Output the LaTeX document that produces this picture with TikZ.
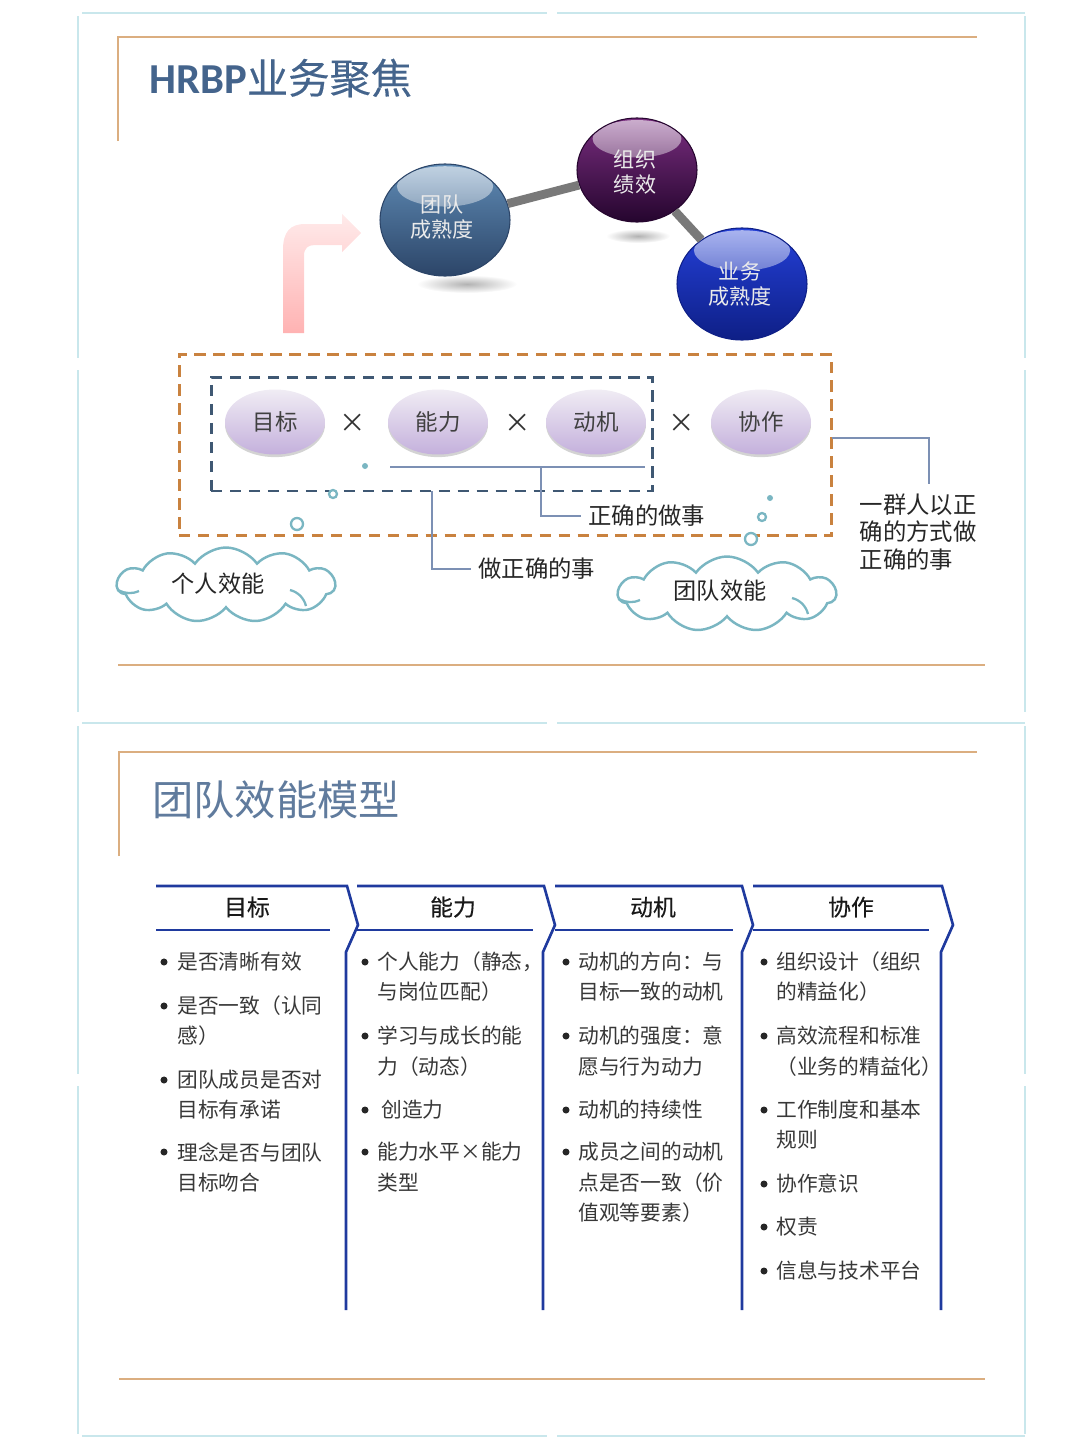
\documentclass[tikz,border=0pt]{standalone}
\usepackage{fontspec}
\setmainfont{Noto Sans CJK SC}
\newfontfamily\latinfont{Carlito}
\newfontfamily\heavyfont[FakeBold=.35]{Noto Sans CJK SC}
\usetikzlibrary{calc,fadings,shadows,shapes.geometric,shapes.symbols}
\definecolor{framecyan}{HTML}{C9E7EC}
\definecolor{rulesand}{HTML}{DBAE80}
\definecolor{titleblue}{HTML}{44648C}
\definecolor{dashorange}{HTML}{C9823F}
\definecolor{dashnavy}{HTML}{3F5873}
\definecolor{leaderblue}{HTML}{7C90B4}
\definecolor{bubbleteal}{HTML}{7AB6C2}
\definecolor{chevblue}{HTML}{1F3A9E}
\definecolor{lenstop}{HTML}{F0ECF4}
\definecolor{lensbot}{HTML}{C4B0DC}
\tikzset{
  framerule/.style={draw=framecyan, line width=0.9pt},
  sandrule/.style={draw=rulesand, line width=0.8pt},
  pagetitle/.style={anchor=west, inner sep=0pt, text=titleblue, font=\fontsize{23.5}{26}\selectfont},
  rod/.style={draw=gray!95!black, line width=5pt},
  dropspot/.style={inner color=gray!60, outer color=white},
  dashbox/.style={draw, line width=1.7pt, dash pattern=on 6.5pt off 4.3pt, inner sep=0pt},
  factor/.style={ellipse, inner sep=0pt, minimum width=2cm, minimum height=1.3cm,
    top color=lenstop, bottom color=lensbot,
    drop shadow={shadow xshift=0pt, shadow yshift=-1.5pt, opacity=.35},
    text=black!75, font=\fontsize{12.8}{15}\selectfont},
  timesmark/.style={inner sep=0pt, text=black!80, font=\fontsize{15}{15}\selectfont},
  leader/.style={draw=leaderblue, line width=.8pt},
  leadertext/.style={anchor=west, inner sep=4pt, text=black!85, font=\fontsize{13.3}{15.7}\selectfont},
  bubble/.style={draw=bubbleteal, line width=1.3pt, fill=white},
  thinkcloud/.style={cloud, draw=bubbleteal, line width=1.4pt, cloud puffs=11, cloud puff arc=110,
    aspect=2.9, inner sep=0pt, minimum width=4.36cm, minimum height=1.5cm},
  cloudtext/.style={inner sep=0pt, text=black!85, font=\fontsize{13.2}{15}\selectfont},
  balltext/.style={inner sep=0pt, align=center, text=white!92!black, font=\fontsize{12}{14.2}\selectfont},
  chevron/.style={draw=chevblue, line width=1.5pt, line join=miter},
  headrule/.style={draw=chevblue, line width=1.2pt},
  headtext/.style={inner sep=0pt, text=black!90, font=\heavyfont\fontsize{13}{15}\selectfont},
  bodytext/.style={anchor=west, inner sep=0pt, xshift=-.5pt, text=black!78, font=\fontsize{11.8}{14}\selectfont},
  dotmark/.style={circle, fill=black!85, inner sep=0pt, minimum size=4pt}
}
\begin{document}
\begin{tikzpicture}[x=.02cm,y=-.02cm]
\useasboundingbox (0,0) rectangle (1080,1440);

% page frames
\draw[framerule] (82,13) -- (547,13) (557,13) -- (1025,13);
\draw[framerule] (78,16) -- (78,358) (78,370) -- (78,712);
\draw[framerule] (1025,16) -- (1025,358) (1025,370) -- (1025,712);
\draw[framerule] (82,723) -- (547,723) (557,723) -- (1025,723);
\draw[framerule] (78,726) -- (78,1074) (78,1086) -- (78,1434);
\draw[framerule] (1025,726) -- (1025,1074) (1025,1086) -- (1025,1434);
\draw[framerule] (82,1436) -- (547,1436) (557,1436) -- (1025,1436);

% sand rules
\draw[sandrule] (118,141) -- (118,37) -- (977,37);
\draw[sandrule] (118,665) -- (985,665);
\draw[sandrule] (119,856) -- (119,752) -- (977,752);
\draw[sandrule] (119,1379) -- (985,1379);

% titles
\node[pagetitle] (titlefocus) at (149,78) {{\latinfont\bfseries\fontsize{24.3}{26}\selectfont HRBP}{\heavyfont 业务聚焦}};
\node[pagetitle, text=titleblue!85] (titlemodel) at (152,800) {团队效能模型};

% shadows under the balls
\shade[dropspot] (467,284) ellipse [x radius=50, y radius=9];
\shade[dropspot] (638,236) ellipse [x radius=32, y radius=7];

% balls
\foreach \nm/\cx/\cy/\rx/\ry/\topc/\botc/\tx/\ty/\txt in {
    ballteam/445/220/65/56/5F8BB5/2C4568/442/217/{团队\\成熟度},
    ballorg/637/170/60/52/7A2E80/25052E/635/172/{组织\\绩效},
    ballbiz/742/284/65/56/2440D8/0E1F86/740/284/{业务\\成熟度}}
{
    \definecolor{balltop}{HTML}{\topc}
    \definecolor{ballbot}{HTML}{\botc}
    \node[ellipse, inner sep=0pt, top color=balltop, bottom color=ballbot,
      draw=ballbot, line width=.6pt,
      minimum width={2*\rx*.02cm}, minimum height={2*\ry*.02cm},
      path picture={\fill[white, path fading=south, fill opacity=.62]
        (path picture bounding box.center) ++(0,-.6*\ry) ellipse [x radius=.74*\rx, y radius=.36*\ry];}]
      (\nm) at (\cx,\cy) {};
    \node[balltext] (\nm-text) at (\tx,\ty) {\txt};
}
\draw[rod] (ballteam) -- (ballorg);
\draw[rod] (ballorg) -- (ballbiz);

% pink arrow
\shade[bottom color=red!30!white, top color=red!8!white]
    (283,333) -- (283,250) .. controls (283,232) and (290,224) .. (305,224) -- (342,224)
    -- (342,214) -- (361,233) -- (342,252) -- (342,245) -- (315,245)
    .. controls (308,245) and (304,248) .. (304,256) -- (304,333) -- cycle;

% dashed boxes
\node[dashbox, draw=dashorange, minimum width=13.06cm, minimum height=3.64cm] (teambox) at (505.5,445) {};
\node[dashbox, draw=dashnavy, minimum width=8.84cm, minimum height=2.28cm] (selfbox) at (432,434) {};

% factors
\node[factor] (goal) at (275,422) {目标};
\node[factor] (ability) at (438,422) {能力};
\node[factor] (drive) at (596,422) {动机};
\node[factor] (collab) at (761,422) {协作};
\node[timesmark] (timesa) at (353,423) {×};
\node[timesmark] (timesb) at (518,423) {×};
\node[timesmark] (timesc) at (682,423) {×};

% leaders
\coordinate (underl) at (390,467);
\coordinate (underr) at (645,467);
\coordinate (underm) at (541,467);
\coordinate (selfm) at (432,491);
\coordinate (teamr) at (832,438);
\coordinate (teamc) at (929,438);
\coordinate (teamd) at (929,484);
\node[leadertext] (rightway) at (581,516) {正确的做事};
\node[leadertext] (rightthing) at (471,569) {做正确的事};
\node[leadertext, align=left, inner sep=0pt] (groupnote) at (859.5,532) {一群人以正\\确的方式做\\正确的事};
\draw[leader] (underl) -- (underr);
\draw[leader] (underm) |- (rightway.west);
\draw[leader] (selfm) |- (rightthing.west);
\draw[leader] (teamr) -- (teamc) -- (teamd);

% bubbles
\fill[bubbleteal] (365,466) circle (3);
\draw[bubble] (333,494) circle (4);
\draw[bubble] (297,524) circle (6);
\fill[bubbleteal] (770,498) circle (3);
\draw[bubble] (762,517) circle (4);
\draw[bubble] (751,539) circle (6);

% clouds
\node[thinkcloud] (cloudself) at (226,585) {};
\node[thinkcloud] (cloudteam) at (727,594) {};
\node[cloudtext] (cloudselftext) at (218,584) {个人效能};
\node[cloudtext] (cloudteamtext) at (720,591) {团队效能};
\draw[bubble, fill=none] (118,590) .. controls (126,594) and (132,594) .. (139,591);
\draw[bubble, fill=none] (290,590) .. controls (298,592) and (304,598) .. (306,606);
\draw[bubble, fill=none] (619,599) .. controls (627,603) and (633,603) .. (640,600);
\draw[bubble, fill=none] (792,598) .. controls (800,600) and (806,606) .. (808,614);

% chevrons
\draw[chevron] (156,886) -- (347,886) -- (358,925) -- (346,952) -- (346,1310);
\draw[chevron] (357,886) -- (544,886) -- (555,925) -- (543,952) -- (543,1310);
\draw[chevron] (555,886) -- (742,886) -- (753,925) -- (742,952) -- (742,1310);
\draw[chevron] (753,886) -- (942,886) -- (953,925) -- (941,952) -- (941,1310);
\draw[headrule] (156,930) -- (330,930);
\draw[headrule] (357,930) -- (533,930);
\draw[headrule] (555,930) -- (733,930);
\draw[headrule] (753,930) -- (929,930);
\node[headtext] (headgoal) at (247,907) {目标};
\node[headtext] (headability) at (453,907) {能力};
\node[headtext] (headdrive) at (653,907) {动机};
\node[headtext] (headcollab) at (851,907) {协作};

% bullets
\foreach \x/\ys in {164/{962,1006,1080,1152},365/{962,1036,1110,1152},
    566/{962,1036,1110,1152},764/{962,1036,1110,1184,1227,1271}}
\foreach \y in \ys
\node[dotmark] (dot-\x-\y) at (\x,\y) {};

% column texts
\foreach \x/\y/\txt in {
    178/962/是否清晰有效, 178/1006/是否一致（认同, 178/1036/感）,
    178/1080/团队成员是否对, 178/1110/目标有承诺,
    178/1152/理念是否与团队, 178/1183/目标吻合,
    378/962/{个人能力（静态，}, 378/992/与岗位匹配）,
    378/1036/学习与成长的能, 378/1067/力（动态）, 382/1110/创造力,
    378/1152/能力水平×能力, 378/1183/类型,
    579/962/动机的方向：与, 579/992/目标一致的动机,
    579/1036/动机的强度：意, 579/1067/愿与行为动力, 579/1110/动机的持续性,
    579/1152/成员之间的动机, 579/1183/点是否一致（价, 579/1213/值观等要素）,
    777/962/组织设计（组织, 777/992/的精益化）,
    777/1036/高效流程和标准, 777/1067/（业务的精益化）,
    777/1110/工作制度和基本, 777/1140/规则, 777/1184/协作意识,
    777/1227/权责, 777/1271/信息与技术平台}
\node[bodytext] (line-\x-\y) at (\x,\y) {\txt};
\end{tikzpicture}
\end{document}
